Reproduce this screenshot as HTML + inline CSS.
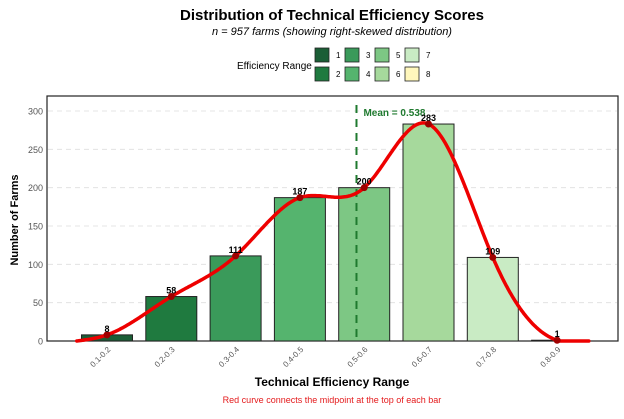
<!DOCTYPE html>
<html><head><meta charset="utf-8">
<style>
body{margin:0;background:#fff;}
svg text{font-family:"Liberation Sans",Arial,sans-serif;}
</style></head>
<body>
<svg id="chart" width="624" height="414" viewBox="0 0 624 414">
<text x="332" y="20" text-anchor="middle" font-size="15" font-weight="bold">Distribution of Technical Efficiency Scores</text>
<text x="332" y="35" text-anchor="middle" font-size="11" font-style="italic">n = 957 farms (showing right-skewed distribution)</text>
<g id="legend">
<text x="237" y="69" font-size="10">Efficiency Range</text>
</g>
<rect x="47" y="96" width="571" height="245" fill="none" stroke="#222" stroke-width="1.2"/>
<g id="grid"></g>
<g id="bars"></g>
<g id="curve"></g>
<g id="labels"></g>
<text transform="translate(18,220) rotate(-90)" text-anchor="middle" font-size="11" font-weight="bold">Number of Farms</text>
<text x="332" y="386" text-anchor="middle" font-size="12" font-weight="bold">Technical Efficiency Range</text>
<text x="332" y="403" text-anchor="middle" font-size="9" fill="#e41a1c">Red curve connects the midpoint at the top of each bar</text>
</svg>
<script>
const categories=["0.1-0.2","0.2-0.3","0.3-0.4","0.4-0.5","0.5-0.6","0.6-0.7","0.7-0.8","0.8-0.9"];
const counts=[8,58,111,187,200,283,109,1];
const yTicks=[0,50,100,150,200,250,300];
const barColors=["#1b5e36","#1f7a3f","#3a9a5a","#55b46e","#7dc784","#a6d99c","#c9ebc4","#fff7bc"];
const legendLabels=["1","2","3","4","5","6","7","8"];
const meanValue=0.538;
const NS="http://www.w3.org/2000/svg";
const svg=document.getElementById('chart');
function mk(tag,attrs,parent,text){const e=document.createElementNS(NS,tag);for(const k in attrs)e.setAttribute(k,attrs[k]);if(text!==undefined)e.textContent=text;parent.appendChild(e);return e;}
const x0=107,step=64.3,yBase=341,yScale=(341-111)/300;
function xc(i){return x0+i*step;}
function xv(v){return x0+(v-0.15)/0.1*step;}
function y(v){return yBase-v*yScale;}
const grid=document.getElementById('grid');
yTicks.forEach(t=>{
 if(t>0){const l=mk('line',{x1:48,x2:617,y1:y(t),y2:y(t),stroke:'#ddd','stroke-dasharray':'5,4','stroke-width':0.8},grid);
 
 }
 const tx=mk('text',{x:43,y:y(t)+3.5,'text-anchor':'end','font-size':9,fill:'#555'},grid,String(t));
 
 
});
const bars=document.getElementById('bars');
categories.forEach((c,i)=>{
 const r=mk('rect',{x:xc(i)-25.5,y:y(counts[i]),width:51,height:counts[i]*yScale,fill:barColors[i],stroke:'#222','stroke-width':1},bars);
 
 
 const t=mk('text',{transform:`translate(${xc(i)+4},${350}) rotate(-45)`,'text-anchor':'end','font-size':8,fill:'#555'},bars,c);
 
 
});
// mean line
const ml=mk('line',{x1:xv(meanValue),x2:xv(meanValue),y1:105,y2:341,stroke:'#1f7a2f','stroke-width':2,'stroke-dasharray':'8,6'},bars);


const mt=mk('text',{x:xv(meanValue)+7,y:116,'font-size':10,'font-weight':'bold',fill:'#1f7a2f'},bars,'Mean = '+meanValue);


// natural cubic spline
const px=[xv(0.103)],py=[0];
counts.forEach((v,i)=>{px.push(xc(i));py.push(v);});
px.push(xv(0.9));py.push(0);
function spline(xs,ys){const n=xs.length-1,h=[],a=[],l=[1],mu=[0],z=[0],c=new Array(n+1).fill(0),b=[],d=[];
 for(let i=0;i<n;i++)h[i]=xs[i+1]-xs[i];
 for(let i=1;i<n;i++)a[i]=3/h[i]*(ys[i+1]-ys[i])-3/h[i-1]*(ys[i]-ys[i-1]);
 for(let i=1;i<n;i++){l[i]=2*(xs[i+1]-xs[i-1])-h[i-1]*mu[i-1];mu[i]=h[i]/l[i];z[i]=(a[i]-h[i-1]*z[i-1])/l[i];}
 l[n]=1;z[n]=0;
 for(let j=n-1;j>=0;j--){c[j]=z[j]-mu[j]*c[j+1];b[j]=(ys[j+1]-ys[j])/h[j]-h[j]*(c[j+1]+2*c[j])/3;d[j]=(c[j+1]-c[j])/(3*h[j]);}
 return xx=>{let j=0;while(j<n-1&&xx>xs[j+1])j++;const dx=xx-xs[j];return ys[j]+b[j]*dx+c[j]*dx*dx+d[j]*dx*dx*dx;};}
const f=spline(px,py);
let dstr='';
for(let X=px[0];X<=px[px.length-1];X+=1){dstr+=(dstr?'L':'M')+X.toFixed(1)+','+y(Math.max(0,f(X))).toFixed(1);}
const cg=document.getElementById('curve');
const path=mk('path',{d:dstr,fill:'none',stroke:'#ee0000','stroke-width':3.5,'stroke-linecap':'round'},cg);


const lg=document.getElementById('labels');
counts.forEach((v,i)=>{
 const p=mk('circle',{cx:xc(i),cy:y(v),r:3.5,fill:'#a00000'},lg);
 
 
 const t=mk('text',{x:xc(i),y:y(v)-3,'text-anchor':'middle','font-size':9,'font-weight':'bold'},lg,String(v));
 
 
});
const leg=document.getElementById('legend');
legendLabels.forEach((lab,i)=>{
 const col=Math.floor(i/2),row=i%2;
 const sx=315+col*30,sy=48+row*19;
 const r=mk('rect',{x:sx,y:sy,width:14,height:14,fill:barColors[i],stroke:'#222','stroke-width':0.8},leg);
 
 
 const t=mk('text',{x:sx+21,y:sy+10,'font-size':8},leg,lab);
 
 
});
</script>
</body></html>
